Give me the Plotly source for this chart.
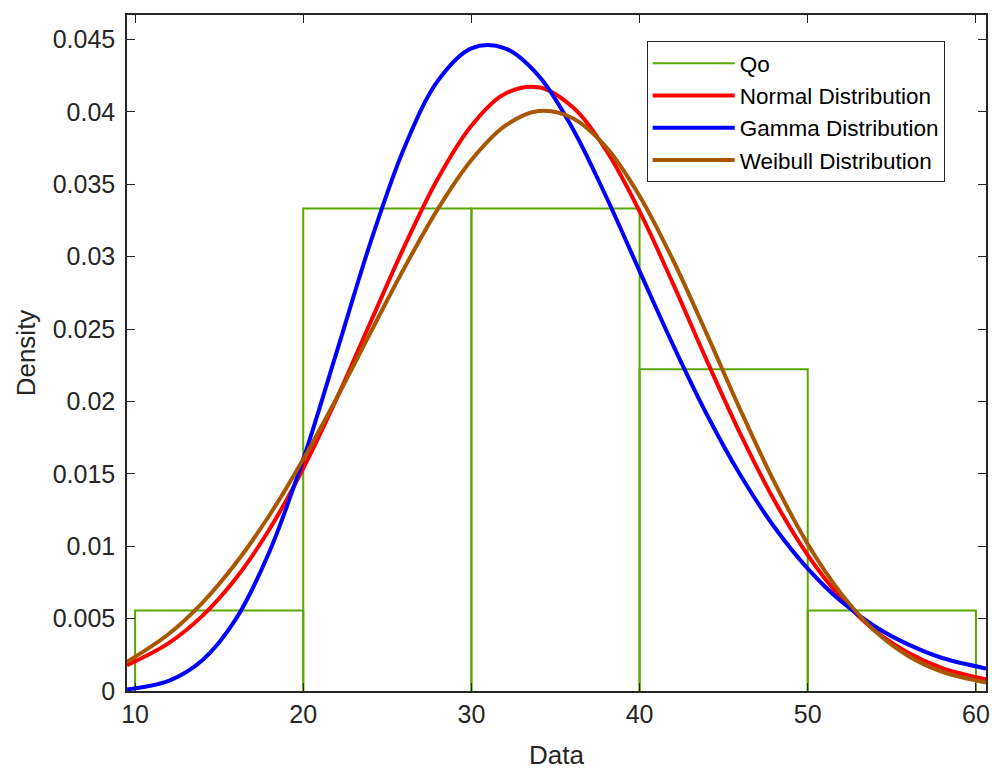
import plotly.graph_objects as go

# histogram of Qo (bin edges and density per bin)
bin_edges = [10, 20, 30, 40, 50, 60]
bin_density = [0.00556, 0.03333, 0.03333, 0.02222, 0.00556]

# fitted curves
x_fit = [9.52, 12, 14, 16, 18, 20, 22, 24, 26, 28, 30, 32, 34, 36, 38, 40,
         42, 44, 46, 48, 50, 52, 54, 56, 58, 60.6]
normal_pdf = [0.00178, 0.00331, 0.00519, 0.00779, 0.01119, 0.01538, 0.02023,
              0.02547, 0.03068, 0.03539, 0.03905, 0.04126, 0.04171, 0.04036,
              0.03738, 0.03313, 0.02811, 0.02282, 0.01774, 0.01319, 0.00939,
              0.00640, 0.00417, 0.00262, 0.00158, 0.00080]
gamma_pdf = [0.00011, 0.00070, 0.00212, 0.00498, 0.00965, 0.01601, 0.02346,
             0.03099, 0.03750, 0.04215, 0.04440, 0.04440, 0.04250, 0.03890,
             0.03418, 0.02901, 0.02388, 0.01910, 0.01490, 0.01135, 0.00846,
             0.00618, 0.00446, 0.00320, 0.00228, 0.00156]
weibull_pdf = [0.00202, 0.00394, 0.00609, 0.00884, 0.01216, 0.01601, 0.02027,
               0.02476, 0.02920, 0.03329, 0.03668, 0.03904, 0.04007, 0.03959,
               0.03759, 0.03420, 0.02974, 0.02465, 0.01940, 0.01446, 0.01016,
               0.00671, 0.00414, 0.00240, 0.00132, 0.00058]

y_tickvals = [0, 0.005, 0.01, 0.015, 0.02, 0.025, 0.03, 0.035, 0.04, 0.045]
y_ticktext = ["0", "0.005", "0.01", "0.015", "0.02", "0.025", "0.03", "0.035", "0.04", "0.045"]
x_tickvals = [10, 20, 30, 40, 50, 60]

AX = "#262626"
FONT = "Liberation Sans, Arial, sans-serif"

# outline of each histogram bar (bottom edge sits on the axis)
hx, hy = [], []
for i, h in enumerate(bin_density):
    l, r = bin_edges[i], bin_edges[i + 1]
    hx += [l, l, r, r, None]
    hy += [0, h, h, 0, None]

fig = go.Figure()
fig.add_trace(go.Scatter(x=hx, y=hy, mode="lines", name="Qo",
                         line=dict(color="#5AA800", width=2)))
fig.add_trace(go.Scatter(x=x_fit, y=normal_pdf, mode="lines", name="Normal Distribution",
                         line=dict(color="#FF0000", width=4, shape="spline")))
fig.add_trace(go.Scatter(x=x_fit, y=gamma_pdf, mode="lines", name="Gamma Distribution",
                         line=dict(color="#0000FF", width=4, shape="spline")))
fig.add_trace(go.Scatter(x=x_fit, y=weibull_pdf, mode="lines", name="Weibull Distribution",
                         line=dict(color="#A85700", width=4, shape="spline")))

fig.update_layout(
    width=992, height=770,
    margin=dict(l=127, r=6, t=15, b=79),
    plot_bgcolor="white", paper_bgcolor="white",
    font=dict(family=FONT, color=AX, size=25),
    legend=dict(x=0.605, y=0.9615, xanchor="left", yanchor="top",
                bgcolor="white", bordercolor=AX, borderwidth=1,
                font=dict(size=22.5, color="black"), itemwidth=82,
                tracegroupgap=0),
    showlegend=True,
)

fig.update_xaxes(range=[9.52, 60.6], tickvals=x_tickvals, ticks="inside", ticklen=8,
                 tickcolor=AX, showline=True, linecolor=AX, linewidth=1.5, mirror="ticks",
                 showgrid=False, zeroline=False, automargin=False, layer="above traces",
                 title=dict(text="Data", font=dict(size=26), standoff=22))
fig.update_yaxes(range=[0, 0.0467], tickvals=y_tickvals, ticktext=y_ticktext,
                 ticks="inside", ticklen=8, tickcolor=AX, showline=True, linecolor=AX,
                 linewidth=1.5, mirror="ticks", showgrid=False, zeroline=False,
                 automargin=False, layer="above traces", ticklabelstandoff=5,
                 title=dict(text="Density", font=dict(size=26), standoff=10))

# drop the browser's default body margin so the figure fills the window exactly
fig.write_html("out.html", config={"displayModeBar": False},
               post_script="document.body.style.margin='0';document.body.style.overflow='hidden';")
